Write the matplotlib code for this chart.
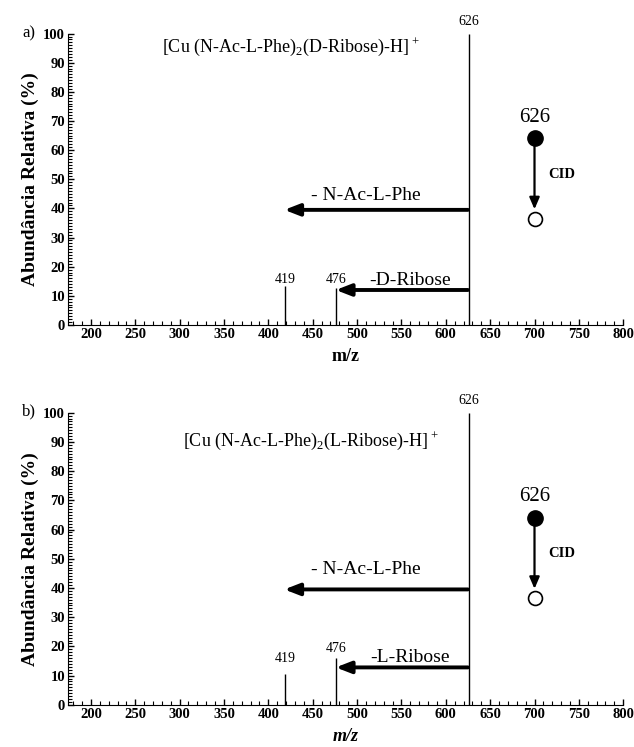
import matplotlib
matplotlib.use("Agg")
import matplotlib.pyplot as plt
from matplotlib.ticker import MultipleLocator

plt.rcParams['font.family'] = ['Liberation Serif', 'DejaVu Serif']
plt.rcParams['mathtext.fontset'] = 'custom'
plt.rcParams['mathtext.rm'] = 'Liberation Serif'

# dados dos espectros (m/z, abundância relativa)
mz = [419, 476, 626]
int_a = [13.5, 12.8, 100]
int_b = [10.6, 16.1, 100]
peak_lab_y_a = [13.2, 13.2, 102.0]
peak_lab_y_b = [13.5, 17.0, 102.0]

titles = [r'[Cu (N-Ac-L-Phe)$_2$(D-Ribose)-H]$^+$',
          r'[Cu (N-Ac-L-Phe)$_2$(L-Ribose)-H]$^+$']
ribose_lab = ['-D-Ribose', '-L-Ribose']
panel_lab = ['a)', 'b)']
title_pos = [(0.169, 0.955), (0.207, 0.905)]
panel_lab_y = [0.955, 0.449]

# perdas neutras: (m/z final, y da seta, y do texto)
phe_loss = [(418, 39.5, 41.5), (418, 39.5, 43.5)]
rib_loss = [(476, 12.0, 12.2), (476, 12.8, 13.2)]
cid_y = [(64, 36.5), (64, 36.5)]

fig = plt.figure(figsize=(6.34, 7.47), dpi=100)
axes = [fig.add_axes([0.107, 0.565, 0.876, 0.39]),
        fig.add_axes([0.107, 0.0565, 0.876, 0.391])]

for i, ax in enumerate(axes):
    ints = [int_a, int_b][i]
    laby = [peak_lab_y_a, peak_lab_y_b][i]
    ax.vlines(mz, 0, ints, color='black', lw=1.0)
    for m, yl in zip(mz, laby):
        ax.text(m, yl, str(m), ha='center', va='bottom', fontsize=10)
    ax.set_xlim(174, 800)
    ax.set_ylim(0, 100)
    ax.spines['top'].set_visible(False)
    ax.spines['right'].set_visible(False)
    ax.xaxis.set_major_locator(MultipleLocator(50))
    ax.xaxis.set_minor_locator(MultipleLocator(10))
    ax.yaxis.set_major_locator(MultipleLocator(10))
    ax.yaxis.set_minor_locator(MultipleLocator(1))
    ax.tick_params(axis='both', which='major', direction='in', length=4,
                   width=1, labelsize=10.5, pad=2)
    ax.tick_params(axis='both', which='minor', direction='in', length=3, width=0.8)
    for lab in ax.get_xticklabels() + ax.get_yticklabels():
        lab.set_fontweight('bold')
    ax.set_ylabel('Abundância Relativa (%)', fontsize=14, fontweight='bold', labelpad=3)
    if i == 0:
        ax.set_xlabel('m/z', fontsize=13, fontweight='bold', labelpad=5)
    else:
        ax.set_xlabel('m/z', fontsize=13, fontweight='bold', style='italic', labelpad=5)

    ax.text(title_pos[i][0], title_pos[i][1], titles[i], transform=ax.transAxes,
            fontsize=13, ha='left', va='center')
    fig.text(22 / 634, panel_lab_y[i], panel_lab[i], fontsize=12,
             ha='left', va='center')

    # setas das perdas neutras
    x_end, y_ar, y_tx = phe_loss[i]
    ax.annotate('', xy=(x_end, y_ar), xytext=(625, y_ar),
                arrowprops=dict(arrowstyle='-|>,head_width=0.35,head_length=0.9',
                                lw=2.8, color='black', shrinkA=0, shrinkB=0))
    ax.text(510, y_tx, '- N-Ac-L-Phe', ha='center', va='bottom', fontsize=14)
    x_end, y_ar, y_tx = rib_loss[i]
    ax.annotate('', xy=(x_end, y_ar), xytext=(625, y_ar),
                arrowprops=dict(arrowstyle='-|>,head_width=0.35,head_length=0.9',
                                lw=2.8, color='black', shrinkA=0, shrinkB=0))
    ax.text(560, y_tx, ribose_lab[i], ha='center', va='bottom', fontsize=14)

    # esquema CID
    y_top, y_bot = cid_y[i]
    ax.annotate('', xy=(700, y_bot + 3.2), xytext=(700, y_top),
                arrowprops=dict(arrowstyle='-|>,head_width=0.3,head_length=0.7',
                                lw=1.6, color='black', shrinkA=0, shrinkB=0))
    ax.plot([700], [y_top], 'o', ms=11, color='black', mec='black')
    ax.plot([700], [y_bot], 'o', ms=10, mfc='white', mec='black', mew=1.2)
    ax.text(700, y_top + 4.0, '626', ha='center', va='bottom', fontsize=15)
    ax.text(716, (y_top + y_bot) / 2 + 1.5, 'CID', ha='left', va='center',
            fontsize=10.5, fontweight='bold')

fig.savefig('out.png', dpi=100)
